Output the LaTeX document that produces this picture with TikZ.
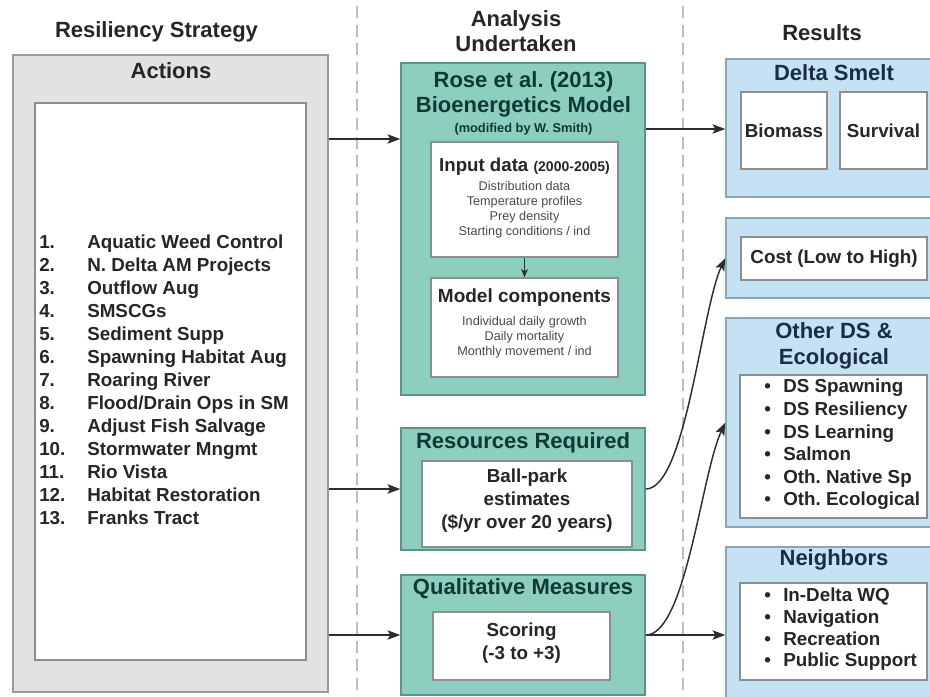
\documentclass[tikz,border=0pt]{standalone}
\usepackage{fontspec}
\setmainfont{Liberation Sans}
\usetikzlibrary{arrows.meta,fit}
\frenchspacing

\definecolor{tealfill}{HTML}{8DCFBF}
\definecolor{tealedge}{HTML}{5E9488}
\definecolor{tealtext}{HTML}{0E3A33}
\definecolor{bluefill}{HTML}{C4E2F4}
\definecolor{blueedge}{HTML}{8AA6B8}
\definecolor{bluetext}{HTML}{1B2C47}
\definecolor{grayfill}{HTML}{E2E2E2}
\definecolor{grayedge}{HTML}{9A9A9A}
\definecolor{inneredge}{HTML}{8E8E8E}
\definecolor{bodytext}{HTML}{262626}
\definecolor{smalltext}{HTML}{4A4A4A}
\definecolor{wire}{HTML}{2E2E2E}
\definecolor{divider}{HTML}{BDBDBD}

\newcommand\numitem[2]{\makebox[36pt][l]{#1}#2}
\newcommand\bulitem[1]{\makebox[14.25pt][l]{\textbullet}#1}

\tikzset{
  panel/.style={inner sep=0pt, line width=1.1pt},
  graypanel/.style={panel, draw=grayedge, fill=grayfill},
  tealpanel/.style={panel, draw=tealedge, fill=tealfill},
  bluepanel/.style={panel, draw=blueedge, fill=bluefill},
  whitepanel/.style={panel, draw=inneredge, fill=white},
  txt/.style={inner sep=0pt, align=center},
  headfont/.style={txt, text=black!85, font=\fontsize{16.5pt}{18.75pt}\selectfont\bfseries},
  tealtitle/.style={txt, text=tealtext, font=\fontsize{16.5pt}{18.75pt}\selectfont\bfseries},
  bluetitle/.style={txt, text=bluetext, font=\fontsize{16.5pt}{19.5pt}\selectfont\bfseries},
  graytitle/.style={txt, text=black!85, font=\fontsize{16.5pt}{18.75pt}\selectfont\bfseries},
  bodyfont/.style={txt, text=bodytext, font=\fontsize{14.1pt}{17.25pt}\selectfont\bfseries},
  smallfont/.style={txt, text=smalltext, font=\fontsize{9.5pt}{11.25pt}\selectfont},
  wireline/.style={draw=wire, line width=1.1pt},
  arrowline/.style={wireline, -{Stealth[length=9.5pt,width=7pt,inset=2pt]}},
  dividerline/.style={draw=divider, line width=0.9pt, dash pattern=on 9pt off 5pt}
}

\begin{document}
\begin{tikzpicture}[x=0.75pt,y=-0.75pt]
\useasboundingbox (0,0) rectangle (930,696);
\clip (0,0) rectangle (930,696);

% column dividers
\draw[dividerline] (357,6) -- (357,700);
\draw[dividerline] (683,6) -- (683,700);

% column headings
\node[headfont] (headleft) at (156.5,32) {Resiliency Strategy};
\node[headfont] (headmid) at (516,31.5) {Analysis\\Undertaken};
\node[headfont] (headright) at (822,33) {Results};

% ---------------- actions ----------------
\node[graypanel, fit={(13,55) (328,692)}] (actions) {};
\node[graytitle] (actionstitle) at (171,71) {Actions};
\node[whitepanel, fit={(35,103) (306,660)}] (actionsinner) {};
\node[bodyfont, anchor=west, align=left] (actionlist) at (39,380) {%
  \numitem{1.}{Aquatic Weed Control}\\
  \numitem{2.}{N. Delta AM Projects}\\
  \numitem{3.}{Outflow Aug}\\
  \numitem{4.}{SMSCGs}\\
  \numitem{5.}{Sediment Supp}\\
  \numitem{6.}{Spawning Habitat Aug}\\
  \numitem{7.}{Roaring River}\\
  \numitem{8.}{Flood/Drain Ops in SM}\\
  \numitem{9.}{Adjust Fish Salvage}\\
  \numitem{10.}{Stormwater Mngmt}\\
  \numitem{11.}{Rio Vista}\\
  \numitem{12.}{Habitat Restoration}\\
  \numitem{13.}{Franks Tract}};

% ---------------- analysis ----------------
\node[tealpanel, fit={(401,63) (645,395)}] (rose) {};
\node[tealtitle] (rosetitle) at (523.5,94.5) {Rose et al. (2013)\\Bioenergetics Model};
\node[txt, text=tealtext, font=\fontsize{9.6pt}{11pt}\selectfont\bfseries] (rosenote) at (523.5,129) {(modified by W. Smith)};

\node[whitepanel, fit={(431,142) (618,257)}] (input) {};
\node[txt, text=bodytext, font=\fontsize{14pt}{16pt}\selectfont\bfseries] (inputtitle) at (524.5,167)
  {Input data {\fontsize{10.5pt}{12pt}\selectfont (2000-2005)}};
\node[smallfont] (inputlines) at (524.5,209.5)
  {Distribution data\\Temperature profiles\\Prey density\\Starting conditions / ind};

\node[whitepanel, fit={(431,278) (618,377)}] (model) {};
\node[txt, text=bodytext, font=\fontsize{14.25pt}{16pt}\selectfont\bfseries] (modeltitle) at (524.5,298) {Model components};
\node[smallfont] (modellines) at (524.5,337)
  {Individual daily growth\\Daily mortality\\Monthly movement / ind};

\node[tealpanel, fit={(401,428) (645,550)}] (resources) {};
\node[tealtitle] (resourcestitle) at (523,443) {Resources Required};
\node[whitepanel, fit={(422,461) (632,547)}] (resourcesinner) {};
\node[bodyfont] (resourcestext) at (527,501) {Ball-park\\estimates\\(\$/yr over 20 years)};

\node[tealpanel, fit={(401,575) (645,695)}] (qual) {};
\node[tealtitle] (qualtitle) at (523,589) {Qualitative Measures};
\node[whitepanel, fit={(433,612) (610,680)}] (qualinner) {};
\node[bodyfont] (qualtext) at (521.5,643.5) {Scoring\\(-3 to +3)};

% ---------------- results ----------------
\node[bluepanel, fit={(726,59) (942,197)}] (smelt) {};
\node[bluetitle] (smelttitle) at (834,73) {Delta Smelt};
\node[whitepanel, fit={(741,92) (827,169)}] (biomass) {};
\node[bodyfont] at (biomass.center) {Biomass};
\node[whitepanel, fit={(840,92) (927,169)}] (survival) {};
\node[bodyfont] at (survival.center) {Survival};

\node[bluepanel, fit={(726,218) (942,298)}] (cost) {};
\node[whitepanel, fit={(741,237) (927,280)}] (costinner) {};
\node[bodyfont] at (costinner.center) {Cost (Low to High)};

\node[bluepanel, fit={(726,318) (942,527)}] (other) {};
\node[bluetitle] (othertitle) at (834,346) {Other DS \&\\Ecological};
\node[whitepanel, fit={(740,375) (927,518)}] (otherinner) {};
\node[bodyfont, anchor=west, align=left, font=\fontsize{14.1pt}{16.9pt}\selectfont\bfseries] (otherlist) at (764,444.5) {%
  \bulitem{DS Spawning}\\
  \bulitem{DS Resiliency}\\
  \bulitem{DS Learning}\\
  \bulitem{Salmon}\\
  \bulitem{Oth. Native Sp}\\
  \bulitem{Oth. Ecological}};

\node[bluepanel, fit={(726,547) (942,700)}] (neighbors) {};
\node[bluetitle] (neighborstitle) at (834,560) {Neighbors};
\node[whitepanel, fit={(740,583) (927,680)}] (neighborsinner) {};
\node[bodyfont, anchor=west, align=left, font=\fontsize{14.1pt}{16.3pt}\selectfont\bfseries] (neighborslist) at (764,629.5) {%
  \bulitem{In-Delta WQ}\\
  \bulitem{Navigation}\\
  \bulitem{Recreation}\\
  \bulitem{Public Support}};

% ---------------- connectors ----------------
\draw[arrowline] (actions.east |- 0,139) -- (rose.west |- 0,139);
\draw[arrowline] (actions.east |- resources.west) -- (resources.west);
\draw[arrowline] (actions.east |- qual.west) -- (qual.west);
\draw[wireline, -{Stealth[length=6pt,width=5pt,inset=1.5pt]}] (input.south) -- (model.north);
\draw[arrowline] (rose.east |- 0,129) -- (smelt.west |- 0,129);
\draw[arrowline] (resources.east) .. controls +(40,0) and +(-24,52) .. (cost.west);
\draw[arrowline] (qual.east) .. controls +(40,0) and +(-24,52) .. (other.west);
\draw[arrowline] (qual.east) -- (neighbors.west |- qual.east);
\end{tikzpicture}
\end{document}
